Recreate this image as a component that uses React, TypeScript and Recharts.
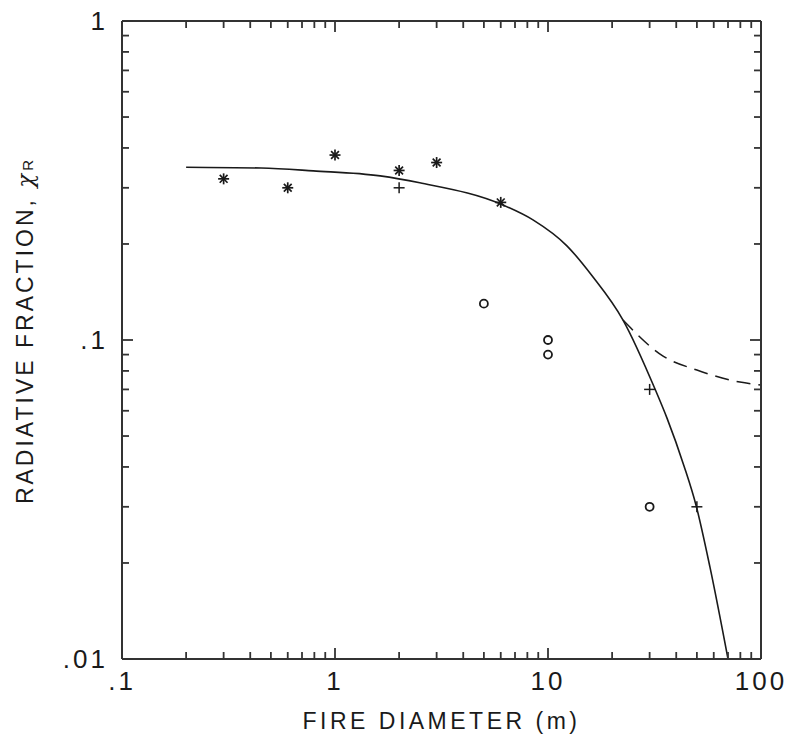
import React from "react";
import { ComposedChart, Line, Scatter, XAxis, YAxis } from "recharts";

// tick positions (log axes)
const xTicks = [
	0.1, 0.2, 0.3, 0.4, 0.5, 0.6, 0.7, 0.8, 0.9, 1, 2, 3, 4, 5, 6, 7, 8, 9, 10,
	20, 30, 40, 50, 60, 70, 80, 90, 100,
];
const yTicks = [
	0.01, 0.02, 0.03, 0.04, 0.05, 0.06, 0.07, 0.08, 0.09, 0.1, 0.2, 0.3, 0.4,
	0.5, 0.6, 0.7, 0.8, 0.9, 1,
];
const xMajor = [0.1, 1, 10, 100];
const xMajorLabels = [".1", "1", "10", "100"];
const yMajor = [0.01, 0.1, 1];
const yMajorLabels = [".01", ".1", "1"];

// measured points
const asterisks = [
	{ x: 0.3, y: 0.32 },
	{ x: 0.6, y: 0.3 },
	{ x: 1, y: 0.38 },
	{ x: 2, y: 0.34 },
	{ x: 3, y: 0.36 },
	{ x: 6, y: 0.27 },
];
const pluses = [
	{ x: 2, y: 0.3 },
	{ x: 30, y: 0.07 },
	{ x: 50, y: 0.03 },
];
const circles = [
	{ x: 5, y: 0.13 },
	{ x: 10, y: 0.1 },
	{ x: 10, y: 0.09 },
	{ x: 30, y: 0.03 },
];

// model curves
const solidCurve = [
	{ x: 0.2, y: 0.348 },
	{ x: 0.45, y: 0.346 },
	{ x: 0.79, y: 0.339 },
	{ x: 1.63, y: 0.327 },
	{ x: 2.5, y: 0.311 },
	{ x: 6.15, y: 0.265 },
	{ x: 8.5, y: 0.238 },
	{ x: 12.3, y: 0.197 },
	{ x: 16.1, y: 0.159 },
	{ x: 22.5, y: 0.1155 },
	{ x: 31.8, y: 0.0702 },
	{ x: 36.2, y: 0.0569 },
	{ x: 43.5, y: 0.0403 },
	{ x: 49.5, y: 0.0304 },
	{ x: 57.6, y: 0.0194 },
	{ x: 70, y: 0.01 },
];
const dashedCurve = [
	{ x: 22.5, y: 0.1155 },
	{ x: 34.7, y: 0.089 },
	{ x: 50, y: 0.0805 },
	{ x: 79.6, y: 0.0738 },
	{ x: 100, y: 0.0723 },
];

const INK = "#1a1a1a";
const AXIS = "#333";
const FONT = "'Liberation Sans', Arial, sans-serif";

const near = (v: number, list: number[]) =>
	list.findIndex((m) => Math.abs(v - m) / m < 1e-6);

const BottomTick = (props: any) => {
	const { x, y, payload } = props;
	const i = near(payload.value, xMajor);
	return (
		<g>
			<line x1={x} x2={x} y1={y} y2={y - (i >= 0 ? 11 : 7)} stroke={AXIS} strokeWidth={1.8} />
			{i >= 0 && (
				<text x={x} y={y + 31} textAnchor="middle" fontSize={26} fontFamily={FONT} fill={INK} letterSpacing={3}>
					{xMajorLabels[i]}
				</text>
			)}
		</g>
	);
};

const TopTick = (props: any) => {
	const { x, y, payload } = props;
	const major = near(payload.value, xMajor) >= 0;
	return <line x1={x} x2={x} y1={y} y2={y + (major ? 11 : 7)} stroke={AXIS} strokeWidth={1.8} />;
};

const LeftTick = (props: any) => {
	const { x, y, payload } = props;
	const i = near(payload.value, yMajor);
	return (
		<g>
			<line x1={x} x2={x + (i >= 0 ? 11 : 7)} y1={y} y2={y} stroke={AXIS} strokeWidth={1.8} />
			{i >= 0 && (
				<text x={x - 14} y={y + 9} textAnchor="end" fontSize={26} fontFamily={FONT} fill={INK} letterSpacing={3}>
					{yMajorLabels[i]}
				</text>
			)}
		</g>
	);
};

const RightTick = (props: any) => {
	const { x, y, payload } = props;
	const major = near(payload.value, yMajor) >= 0;
	return <line x1={x} x2={x - (major ? 11 : 7)} y1={y} y2={y} stroke={AXIS} strokeWidth={1.8} />;
};

const Asterisk = (props: any) => {
	const { cx, cy } = props;
	const r = 5.5;
	const d = 3.9;
	return (
		<g stroke={INK} strokeWidth={1.7}>
			<line x1={cx} x2={cx} y1={cy - r} y2={cy + r} />
			<line x1={cx - r} x2={cx + r} y1={cy} y2={cy} />
			<line x1={cx - d} x2={cx + d} y1={cy - d} y2={cy + d} />
			<line x1={cx - d} x2={cx + d} y1={cy + d} y2={cy - d} />
		</g>
	);
};

const Plus = (props: any) => {
	const { cx, cy } = props;
	const r = 5.5;
	return (
		<g stroke={INK} strokeWidth={1.5}>
			<line x1={cx - r} x2={cx + r} y1={cy} y2={cy} />
			<line x1={cx} x2={cx} y1={cy - r} y2={cy + r} />
		</g>
	);
};

const Ring = (props: any) => {
	const { cx, cy } = props;
	return <circle cx={cx} cy={cy} r={4} fill="none" stroke={INK} strokeWidth={1.8} />;
};

const XTitle = (props: any) => {
	const { viewBox } = props;
	return (
		<text
			x={viewBox.x + viewBox.width / 2}
			y={729}
			textAnchor="middle"
			fontSize={23}
			fontFamily={FONT}
			fill={INK}
			letterSpacing={3.5}
		>
			FIRE DIAMETER (m)
		</text>
	);
};

const YTitle = () => (
	<text
		x={33}
		y={332}
		transform="rotate(-90, 33, 332)"
		textAnchor="middle"
		fontSize={23}
		fontFamily={FONT}
		fill={INK}
		letterSpacing={3}
	>
		RADIATIVE FRACTION,{" "}
		<tspan fontStyle="italic" fontFamily="'DejaVu Serif', serif">
			χ
		</tspan>
		<tspan fontSize={15} letterSpacing={0}>
			R
		</tspan>
	</text>
);

export default function App() {
	return (
		<div style={{ position: "absolute", left: 0, top: 0, background: "#fff" }}>
			<ComposedChart
				width={791}
				height={738}
				margin={{ top: 11, right: 20, bottom: 19, left: 22 }}
			>
				<XAxis
					xAxisId="b"
					dataKey="x"
					type="number"
					scale="log"
					domain={[0.1, 100]}
					allowDataOverflow
					ticks={xTicks}
					interval={0}
					tickSize={0}
					tickMargin={0}
					tick={<BottomTick />}
					tickLine={false}
					axisLine={{ stroke: AXIS, strokeWidth: 2 }}
					height={60}
					label={<XTitle />}
				/>
				<XAxis
					xAxisId="t"
					orientation="top"
					dataKey="x"
					type="number"
					scale="log"
					domain={[0.1, 100]}
					allowDataOverflow
					ticks={xTicks}
					interval={0}
					tickSize={0}
					tickMargin={0}
					tick={<TopTick />}
					tickLine={false}
					axisLine={{ stroke: AXIS, strokeWidth: 2 }}
					height={10}
				/>
				<YAxis
					yAxisId="l"
					type="number"
					scale="log"
					domain={[0.01, 1]}
					allowDataOverflow
					ticks={yTicks}
					interval={0}
					tickSize={0}
					tickMargin={0}
					tick={<LeftTick />}
					tickLine={false}
					axisLine={{ stroke: AXIS, strokeWidth: 2 }}
					width={100}
					label={<YTitle />}
				/>
				<YAxis
					yAxisId="r"
					orientation="right"
					type="number"
					scale="log"
					domain={[0.01, 1]}
					allowDataOverflow
					ticks={yTicks}
					interval={0}
					tickSize={0}
					tickMargin={0}
					tick={<RightTick />}
					tickLine={false}
					axisLine={{ stroke: AXIS, strokeWidth: 2 }}
					width={10}
				/>
				<Line
					xAxisId="b"
					yAxisId="l"
					data={solidCurve}
					dataKey="y"
					type="monotone"
					stroke={INK}
					strokeWidth={1.6}
					dot={false}
					activeDot={false}
					isAnimationActive={false}
				/>
				<Line
					xAxisId="b"
					yAxisId="l"
					data={dashedCurve}
					dataKey="y"
					type="monotone"
					stroke={INK}
					strokeWidth={1.5}
					strokeDasharray="14 8"
					dot={false}
					activeDot={false}
					isAnimationActive={false}
				/>
				<Scatter xAxisId="b" yAxisId="l" data={asterisks} dataKey="y" shape={<Asterisk />} isAnimationActive={false} />
				<Scatter xAxisId="b" yAxisId="l" data={pluses} dataKey="y" shape={<Plus />} isAnimationActive={false} />
				<Scatter xAxisId="b" yAxisId="l" data={circles} dataKey="y" shape={<Ring />} isAnimationActive={false} />
			</ComposedChart>
		</div>
	);
}
